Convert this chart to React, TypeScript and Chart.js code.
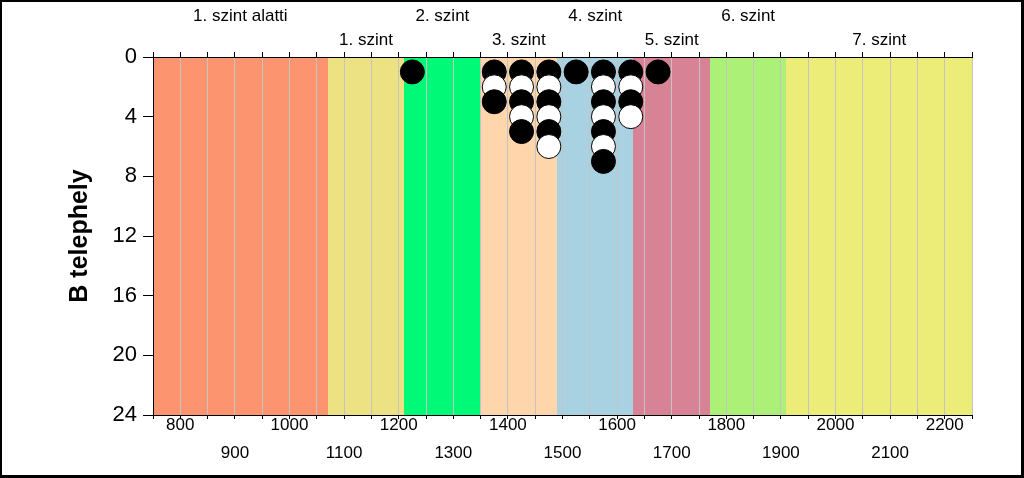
import React, { useEffect, useRef } from "react";
import { Chart, registerables } from "chart.js";

Chart.register(...registerables);

// Level bands (x ranges) and their names
const bandNames = [
  "1. szint alatti",
  "1. szint",
  "2. szint",
  "3. szint",
  "4. szint",
  "5. szint",
  "6. szint",
  "7. szint",
];
const bandStart = [750, 1070, 1210, 1350, 1490, 1630, 1770, 1910];
const bandEnd = [1070, 1210, 1350, 1490, 1630, 1770, 1910, 2250];
const bandColors = [
  "#FC9470",
  "#ECE284",
  "#00FA78",
  "#FFD6AC",
  "#A8D2E1",
  "#D88296",
  "#ACF078",
  "#ECEC78",
];

// Dot plot points (x = elevation bin, y = stack position, kind F = filled, U = unfilled)
const pointX = [
  1225,
  1375, 1375, 1375,
  1425, 1425, 1425, 1425, 1425,
  1475, 1475, 1475, 1475, 1475, 1475,
  1525,
  1575, 1575, 1575, 1575, 1575, 1575, 1575,
  1625, 1625, 1625, 1625,
  1675,
];
const pointY = [
  1,
  1, 2, 3,
  1, 2, 3, 4, 5,
  1, 2, 3, 4, 5, 6,
  1,
  1, 2, 3, 4, 5, 6, 7,
  1, 2, 3, 4,
  1,
];
const pointKind = [
  "F",
  "F", "U", "F",
  "F", "U", "F", "U", "F",
  "F", "U", "F", "U", "F", "U",
  "F",
  "F", "U", "F", "U", "F", "U", "F",
  "F", "U", "F", "U",
  "F",
];

const xMin = 750;
const xMax = 2250;
const yMin = 0;
const yMax = 24;
const yTitle = "B telephely";

const FONT = "Arial, 'Liberation Sans', sans-serif";

const bandPlugin = {
  id: "bands",
  beforeDraw(chart: any) {
    const { ctx, chartArea, scales } = chart;
    const xs = scales.x;
    ctx.save();
    for (let i = 0; i < bandStart.length; i++) {
      const x0 = Math.round(xs.getPixelForValue(bandStart[i]));
      const x1 = Math.round(xs.getPixelForValue(bandEnd[i]));
      ctx.fillStyle = bandColors[i];
      ctx.fillRect(x0, chartArea.top, x1 - x0, chartArea.bottom - chartArea.top);
    }
    ctx.restore();
  },
};

export default function App() {
  const canvasRef = useRef<HTMLCanvasElement | null>(null);

  useEffect(() => {
    document.body.style.margin = "0";
    const canvas = canvasRef.current;
    if (!canvas) return;
    const bandCenters = bandStart.map((s, i) => (s + bandEnd[i]) / 2);

    const chart = new Chart(canvas, {
      type: "scatter",
      data: {
        datasets: [
          {
            data: pointX.map((x, i) => ({ x, y: pointY[i] })),
            pointRadius: 12,
            pointHoverRadius: 12,
            pointBorderWidth: 1,
            pointBorderColor: "#000000",
            pointBackgroundColor: pointKind.map((k) => (k === "F" ? "#000000" : "#ffffff")),
            clip: false as any,
          },
        ],
      },
      plugins: [bandPlugin],
      options: {
        responsive: false,
        animation: false,
        events: [],
        layout: { padding: { left: 0, right: 49, top: 0, bottom: 0 } },
        plugins: {
          legend: { display: false },
          tooltip: { enabled: false },
        },
        scales: {
          x: {
            type: "linear",
            position: "bottom",
            min: xMin,
            max: xMax,
            afterFit: (s: any) => {
              s.height = 60;
            },
            ticks: {
              stepSize: 50,
              autoSkip: false,
              maxRotation: 0,
              minRotation: 0,
              padding: -7,
              color: "#000",
              font: { family: FONT, size: 17, lineHeight: "27.5px" },
              callback: (v: any) => {
                const n = Number(v);
                if (n % 100 !== 0) return "";
                return (n / 100) % 2 === 0 ? [String(n), ""] : ["", String(n)];
              },
            },
            grid: {
              drawOnChartArea: true,
              color: "#c4c4c4",
              tickColor: "#000",
              tickLength: 4,
              lineWidth: 1,
            },
            border: { display: true, color: "#000", width: 1 },
          },
          x2: {
            type: "linear",
            position: "top",
            weight: 0,
            min: xMin,
            max: xMax,
            afterFit: (s: any) => {
              s.height = 5;
            },
            ticks: { display: false, stepSize: 50, autoSkip: false },
            grid: {
              drawOnChartArea: false,
              drawTicks: true,
              tickLength: 5,
              tickColor: "#000",
            },
            border: { display: true, color: "#000", width: 1 },
          },
          x3: {
            type: "linear",
            position: "top",
            weight: 1,
            min: xMin,
            max: xMax,
            afterFit: (s: any) => {
              s.height = 50;
            },
            afterBuildTicks: (s: any) => {
              s.ticks = bandCenters.map((v) => ({ value: v }));
            },
            ticks: {
              autoSkip: false,
              maxRotation: 0,
              minRotation: 0,
              padding: 0,
              color: "#000",
              font: { family: FONT, size: 17, lineHeight: "24px" },
              callback: (_v: any, i: number) =>
                i % 2 === 0 ? [bandNames[i], ""] : ["", bandNames[i]],
            },
            grid: { display: false, drawTicks: false, drawOnChartArea: false },
            border: { display: false },
          },
          y: {
            type: "linear",
            position: "left",
            min: yMin,
            max: yMax,
            reverse: true,
            afterFit: (s: any) => {
              s.width = 151;
            },
            ticks: {
              stepSize: 4,
              padding: 6,
              color: "#000",
              font: { family: FONT, size: 22 },
            },
            grid: {
              drawOnChartArea: false,
              tickLength: 10,
              tickColor: "#000",
            },
            border: { display: true, color: "#000", width: 1 },
            title: {
              display: true,
              text: yTitle,
              color: "#000",
              font: { family: FONT, size: 25, weight: "bold" },
              padding: { top: 63, bottom: 0 },
            },
          },
        },
      } as any,
    });
    return () => chart.destroy();
  }, []);

  return (
    <div
      style={{
        width: 1024,
        height: 478,
        boxSizing: "border-box",
        borderLeft: "2px solid #000",
        borderTop: "2px solid #000",
        borderRight: "3px solid #000",
        borderBottom: "3px solid #000",
        background: "#fff",
        overflow: "hidden",
      }}
    >
      <canvas ref={canvasRef} width={1019} height={473} style={{ display: "block" }} />
    </div>
  );
}
